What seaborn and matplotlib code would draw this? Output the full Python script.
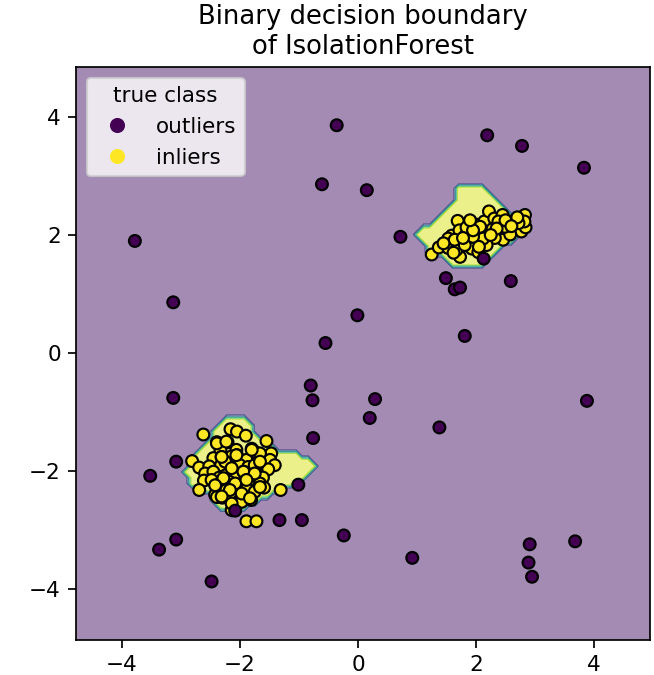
import matplotlib.pyplot as plt
import numpy as np
import pandas as pd
import seaborn as sns
from matplotlib.lines import Line2D
from matplotlib.path import Path

# inliers, lower-left blob
blob_a_x = [-2.62, -2.16, -2.05, -1.90, -2.39, -2.21, -1.55, -2.33, -2.06, -1.75,
            -1.80, -1.47, -1.66, -2.81, -2.45, -2.31, -2.14, -2.05, -1.89, -1.66,
            -1.49, -1.41, -2.69, -2.52, -2.32, -2.25, -2.14, -2.00, -1.86, -1.75,
            -1.52, -2.59, -2.45, -2.35, -2.24, -2.07, -1.94, -1.83, -1.72, -1.61,
            -2.61, -2.48, -2.34, -2.18, -2.08, -1.97, -1.86, -1.66, -1.59, -2.69,
            -2.42, -2.29, -2.23, -2.03, -1.88, -1.75, -1.31, -2.39, -2.30, -2.14,
            -2.00, -1.81, -2.08, -2.14, -1.97, -1.89, -1.72,
            -2.39, -2.23, -2.31, -2.06, -1.80, -1.66, -2.14, -1.94, -1.75, -2.28,
            -2.08, -1.89, -1.66, -2.42, -2.17, -1.97, -2.31, -2.14, -1.83]
blob_a_y = [-1.38, -1.29, -1.33, -1.40, -1.51, -1.51, -1.49, -1.64, -1.64, -1.67,
            -1.62, -1.70, -1.70, -1.83, -1.78, -1.76, -1.75, -1.73, -1.81, -1.86,
            -1.81, -1.90, -1.94, -1.92, -1.90, -1.84, -1.97, -1.90, -1.93, -1.90,
            -1.97, -2.04, -2.01, -2.11, -2.07, -2.04, -2.01, -2.08, -2.04, -2.11,
            -2.16, -2.15, -2.21, -2.18, -2.22, -2.27, -2.18, -2.21, -2.28, -2.32,
            -2.40, -2.27, -2.32, -2.32, -2.30, -2.35, -2.32, -2.44, -2.45, -2.44,
            -2.49, -2.49, -2.55, -2.66, -2.52, -2.85, -2.85,
            -1.53, -1.50, -1.76, -1.73, -1.64, -1.84, -1.95, -2.01, -2.04, -2.12,
            -2.21, -2.15, -2.27, -2.24, -2.32, -2.38, -2.43, -2.55, -2.46]

# inliers, upper-right blob
blob_b_x = [1.25, 1.37, 1.53, 1.59, 1.69, 1.72, 1.82, 1.84, 1.69, 1.73,
            1.67, 1.87, 1.99, 2.04, 2.00, 2.14, 2.15, 2.22, 2.31, 2.28,
            2.45, 2.42, 2.46, 2.32, 2.18, 1.93, 2.04, 2.60, 2.66, 2.77,
            2.83, 2.84, 2.82, 2.58, 1.53, 1.81, 2.12, 2.38, 2.72, 1.64,
            1.95, 2.49, 2.35, 2.07,
            1.45, 1.62, 1.78, 1.95, 2.25, 2.50, 2.70, 2.05, 1.90, 2.60]
blob_b_y = [1.67, 1.79, 1.78, 1.99, 2.24, 2.08, 1.99, 2.13, 1.82, 1.63,
            1.75, 1.89, 2.18, 1.90, 2.05, 2.23, 2.06, 2.40, 2.28, 2.10,
            2.34, 2.07, 1.92, 1.95, 1.83, 1.77, 1.71, 2.23, 2.11, 2.06,
            2.34, 2.13, 2.23, 2.01, 1.94, 1.83, 1.94, 2.23, 2.20, 1.92,
            1.97, 2.14, 2.11, 2.14,
            1.86, 1.70, 1.95, 2.08, 2.00, 2.25, 2.30, 1.80, 2.25, 2.15]

# outliers
out_x = [-0.36, 2.19, 2.78, 3.83, -3.78, -0.61, 0.15, 0.72, 2.13, 1.49,
         1.64, 1.73, 2.59, 1.81, -0.01, -3.13, -0.55, -0.80, -0.77, -0.76,
         0.29, 0.20, 1.38, 3.88, -3.13, -3.52, -3.08, -1.01, -2.08, -1.33,
         -0.95, -3.08, -3.37, -0.24, 0.92, -2.48, 2.91, 2.89, 2.95, 3.68]
out_y = [3.86, 3.69, 3.51, 3.14, 1.90, 2.86, 2.76, 1.97, 1.60, 1.27,
         1.08, 1.11, 1.22, 0.29, 0.64, 0.86, 0.17, -0.55, -0.80, -1.44,
         -0.78, -1.10, -1.26, -0.81, -0.76, -2.08, -1.84, -2.23, -2.67, -2.83,
         -2.83, -3.16, -3.33, -3.09, -3.47, -3.87, -3.24, -3.55, -3.79, -3.19]

# outline of the areas predicted as inliers
zone_a_x = [-2.23, -1.97, -1.66, -1.44, -1.24, -0.93, -0.70, -0.87, -1.10, -1.41,
            -1.72, -1.89, -2.08, -2.39, -2.45, -2.79, -2.92, -2.90, -2.73, -2.51, -2.37]
zone_a_y = [-1.07, -1.07, -1.42, -1.56, -1.70, -1.73, -1.92, -2.10, -2.24, -2.38,
            -2.52, -2.63, -2.72, -2.63, -2.44, -2.27, -2.04, -1.87, -1.64, -1.47, -1.22]
zone_b_x = [1.76, 2.07, 2.18, 2.41, 2.52, 2.69, 2.77, 2.63, 2.41, 2.18, 2.07,
            1.67, 1.50, 1.39, 1.22, 1.05, 0.94, 1.11, 1.33, 1.56, 1.64, 1.67]
zone_b_y = [2.86, 2.86, 2.73, 2.54, 2.42, 2.25, 2.03, 1.92, 1.75, 1.58, 1.49,
            1.44, 1.55, 1.63, 1.69, 1.89, 2.03, 2.14, 2.25, 2.48, 2.65, 2.82]

x_lim = (-4.78, 4.95)
y_lim = (-4.86, 4.85)

# predicted class on a 100x100 grid
xx, yy = np.meshgrid(np.linspace(*x_lim, 100), np.linspace(*y_lim, 100))
grid = np.column_stack([xx.ravel(), yy.ravel()])
pred = -np.ones(len(grid))
for zx, zy in [(zone_a_x, zone_a_y), (zone_b_x, zone_b_y)]:
    pred[Path(np.column_stack([zx, zy])).contains_points(grid)] = 1
pred = pred.reshape(xx.shape)

inliers = pd.DataFrame({"x": blob_a_x + blob_b_x, "y": blob_a_y + blob_b_y})
inliers["cls"] = 1
outliers = pd.DataFrame({"x": out_x, "y": out_y})
outliers["cls"] = 0
data = pd.concat([inliers, outliers], ignore_index=True)

cmap = plt.get_cmap("viridis")
colors = {0: cmap(0.0), 1: cmap(1.0)}

dpi = 155
fig, ax = plt.subplots(figsize=(654 / dpi, 675 / dpi), dpi=dpi)
fig.subplots_adjust(left=0.116, right=0.994, bottom=0.052, top=0.901)

ax.contourf(xx, yy, pred, cmap="viridis", alpha=0.5)
sns.scatterplot(data=data, x="x", y="y", hue="cls", palette=colors,
                s=30, edgecolor="k", linewidth=1.0, legend=False, ax=ax)

handles = [Line2D([0], [0], marker="o", linestyle="", color=colors[c],
                  markersize=6, markeredgewidth=1.0) for c in (0, 1)]
ax.legend(handles=handles, labels=["outliers", "inliers"], title="true class",
          loc="upper left")

ax.set_xlim(*x_lim)
ax.set_ylim(*y_lim)
ax.set_xlabel("")
ax.set_ylabel("")
ax.set_title("Binary decision boundary\nof IsolationForest")

plt.savefig("out.png", dpi=dpi)
